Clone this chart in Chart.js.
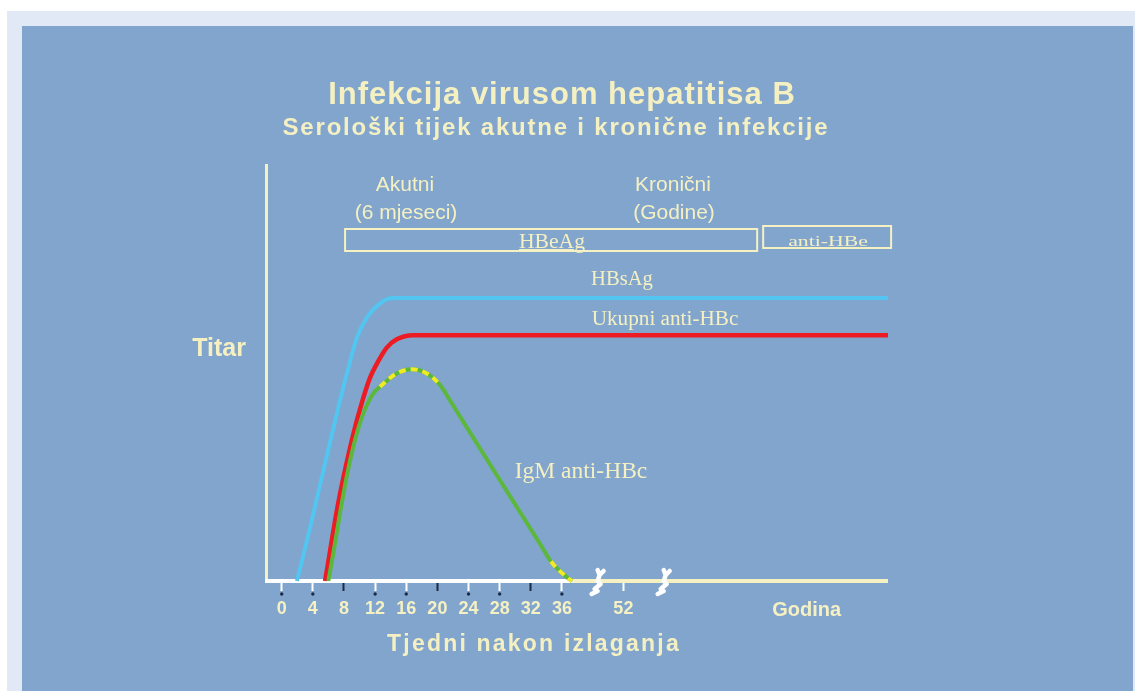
<!DOCTYPE html>
<html lang="hr">
<head>
<meta charset="utf-8">
<title>Infekcija virusom hepatitisa B</title>
<script src="https://cdn.jsdelivr.net/npm/chart.js@4.4.1/dist/chart.umd.min.js"></script>
<style>
html,body{margin:0;padding:0;background:#fff;}
#page{position:relative;width:1135px;height:691px;overflow:hidden;font-family:Arial,"Liberation Sans",sans-serif;}
.frame{position:absolute;left:7px;top:11px;right:0;bottom:0;background:#e1e9f6;}
.panel{position:absolute;left:22px;top:26px;right:2px;bottom:0;background:#82a5cd;}
#chart{position:absolute;left:0;top:0;}
.lbl{position:absolute;white-space:nowrap;line-height:1;color:#f4f0c2;transform:translateX(-50%);}
.b{font-weight:bold;}
.serif{font-family:"Liberation Serif","Times New Roman",serif;}
.u{text-decoration:underline;text-decoration-thickness:1px;text-underline-offset:1px;}
</style>
</head>
<body>
<div id="page">
  <div class="frame"></div>
  <div class="panel"></div>
  <canvas id="chart" width="1135" height="691"></canvas>

  <div class="lbl b" style="left:562px;top:78px;font-size:31px;letter-spacing:1px">Infekcija virusom hepatitisa B</div>
  <div class="lbl b" style="left:556px;top:115px;font-size:24px;letter-spacing:1.8px">Serološki tijek akutne i kronične infekcije</div>

  <div class="lbl" style="left:405px;top:173px;font-size:21px">Akutni</div>
  <div class="lbl" style="left:406px;top:201px;font-size:21px">(6 mjeseci)</div>
  <div class="lbl" style="left:673px;top:173px;font-size:21px">Kronični</div>
  <div class="lbl" style="left:674px;top:201px;font-size:21px">(Godine)</div>

  <div class="lbl serif u" style="left:552px;top:231px;font-size:20px;transform:translateX(-50%) scaleX(1.08)">HBeAg</div>
  <div class="lbl serif u" style="left:828px;top:234px;font-size:15px;transform:translateX(-50%) scaleX(1.45)">anti-HBe</div>
  <div class="lbl serif" style="left:622px;top:268px;font-size:20px;transform:translateX(-50%) scaleX(1.03)">HBsAg</div>
  <div class="lbl serif" style="left:665px;top:308px;font-size:20px;transform:translateX(-50%) scaleX(1.06)">Ukupni anti-HBc</div>
  <div class="lbl serif" style="left:581px;top:459px;font-size:23.5px">IgM anti-HBc</div>

  <div class="lbl b" style="left:219px;top:335px;font-size:25px">Titar</div>
  <div class="lbl b" style="left:534px;top:632px;font-size:23px;letter-spacing:2.2px">Tjedni nakon izlaganja</div>
</div>

<script>
// x in weeks after exposure (axis is broken after 36, so 52 and "Godina" sit at compressed positions)
const tickPositions = [0,4,8,12,16,20,24,28,32,36,43.9,67.45];
const tickLabels = ['0','4','8','12','16','20','24','28','32','36','52','Godina'];
const darkTicks = [8,20,32];
const axisBreaks = [40.46,48.95];
const axisSplit = 37.4;   // white axis ends here, cream continues

const hbsAgWeeks = [1.95,3.7,5.4,7.5,8.6,9.7,11.0,12.6,14.3,77.9];
const hbsAgTitre = [0,13.3,26.9,43.5,51.5,58.7,63.5,66.7,68.0,68.0];

const antiHBcWeeks = [5.57,6.21,7.07,7.92,8.78,9.64,10.49,11.35,12.42,13.5,14.78,16.9,77.9];
const antiHBcTitre = [0,7.2,16.8,24.8,32.0,38.5,44.1,48.9,52.9,56.1,58.1,59.1,59.1];

const igmWeeks = [5.99,6.63,7.49,8.35,9.42,10.49,11.77,12.63,14.78,16.71,18.64,20.35,21.63,22.92,28.92,33.2,34.6,36.84,37.3];
const igmTitre = [0,6.7,16.3,25.1,33.9,40.3,45.1,46.7,49.9,50.9,49.9,47.1,43.4,39.5,21.6,8.9,4.7,0.6,0];
const igmDashed = [[12.63,20.35],[34.6,37.3]];

const hbeAgSpan = [8.14,61.09];
const antiHBeSpan = [61.86,78.3];

const cream = '#f5f1c3', dark = '#1c2a45';
const blue = '#52c5f0', red = '#ed1c24', green = '#5cb83c', yellow = '#f2ea26';

const pts = (xs,ys)=>xs.map((x,i)=>({x,y:ys[i]}));
const inDash = c => igmDashed.some(([s,e]) => c.p0.parsed.x >= s-1e-6 && c.p1.parsed.x <= e+1e-6);

function line(label,data,color,extra={}){
  return Object.assign({label,data,borderColor:color,borderWidth:4,pointRadius:0,
    cubicInterpolationMode:'monotone',fill:false,clip:false},extra);
}

const decor = {
  id:'decor',
  beforeDatasetsDraw(chart){
    const {ctx} = chart, x = chart.scales.x, y = chart.scales.y;
    const y0 = y.getPixelForValue(0);
    ctx.save();
    ctx.lineWidth = 4;
    ctx.strokeStyle = '#ffffff';
    ctx.beginPath(); ctx.moveTo(x.left-1,y0); ctx.lineTo(x.getPixelForValue(axisSplit),y0); ctx.stroke();
    ctx.strokeStyle = cream;
    ctx.beginPath(); ctx.moveTo(x.getPixelForValue(axisSplit),y0); ctx.lineTo(x.right,y0); ctx.stroke();
    // HBeAg / anti-HBe boxes
    ctx.lineWidth = 2;
    const a = x.getPixelForValue(hbeAgSpan[0]), b = x.getPixelForValue(hbeAgSpan[1]);
    ctx.strokeRect(a,229,b-a,22);
    const c = x.getPixelForValue(antiHBeSpan[0]), d = x.getPixelForValue(antiHBeSpan[1]);
    ctx.strokeRect(c,226,d-c,22);
    ctx.restore();
  },
  afterDatasetsDraw(chart){
    const {ctx} = chart, x = chart.scales.x, y = chart.scales.y;
    const y0 = y.getPixelForValue(0);
    ctx.save();
    ctx.fillStyle = dark;
    tickPositions.slice(0,10).forEach(v=>{
      if(darkTicks.includes(v)) return;
      ctx.beginPath(); ctx.arc(x.getPixelForValue(v),y0+13,1.7,0,Math.PI*2); ctx.fill();
    });
    // axis break marks
    ctx.strokeStyle = '#ffffff'; ctx.lineWidth = 4.5; ctx.lineJoin = 'round'; ctx.lineCap = 'round';
    axisBreaks.forEach(v=>{
      const px = x.getPixelForValue(v), py = y0+1;
      ctx.beginPath();
      ctx.moveTo(px+1,py-12); ctx.lineTo(px+3,py-7); ctx.lineTo(px+7,py-11);
      ctx.moveTo(px+3,py-7); ctx.lineTo(px+1,py-1); ctx.lineTo(px+4,py+2);
      ctx.lineTo(px-2,py+7); ctx.lineTo(px+1,py+9); ctx.lineTo(px-5,py+12);
      ctx.stroke();
    });
    ctx.restore();
  }
};

new Chart(document.getElementById('chart'),{
  type:'line',
  data:{datasets:[
    line('IgM anti-HBc (isprekidano)',pts(igmWeeks,igmTitre),yellow,{borderDash:[7,5],order:0,
      segment:{borderColor:c=>inDash(c)?yellow:'transparent'}}),
    line('IgM anti-HBc',pts(igmWeeks,igmTitre),green,{order:1}),
    line('Ukupni anti-HBc',pts(antiHBcWeeks,antiHBcTitre),red,{borderWidth:4.5,order:2}),
    line('HBsAg',pts(hbsAgWeeks,hbsAgTitre),blue,{order:3})
  ]},
  options:{
    responsive:false, animation:false, events:[],
    layout:{padding:{left:266,right:247,top:165,bottom:50}},
    plugins:{legend:{display:false},tooltip:{enabled:false}},
    scales:{
      x:{type:'linear',min:-2.02,max:77.9,
        border:{display:false},
        grid:{drawOnChartArea:false,tickLength:10,tickWidth:2,
          tickColor:c=>{
            const v = c.tick && c.tick.value;
            if(v===tickPositions[11]) return 'transparent';
            return darkTicks.includes(v) ? dark : '#ffffff';
          }},
        ticks:{autoSkip:false,maxRotation:0,padding:7,color:cream,
          font:c=>({family:'Arial, "Liberation Sans", sans-serif',weight:'bold',
            size:(c.tick && c.tick.value===tickPositions[11]) ? 20 : 18}),
          callback:(v,i)=>tickLabels[i]},
        afterBuildTicks:s=>{ s.ticks = tickPositions.map(v=>({value:v})); },
        afterFit:s=>{ s.height = 60; }
      },
      y:{min:0,max:100,
        ticks:{display:false},
        grid:{display:false,drawTicks:false},
        border:{color:cream,width:3},
        afterFit:s=>{ s.width = 0; }
      }
    }
  },
  plugins:[decor]
});
</script>
</body>
</html>
